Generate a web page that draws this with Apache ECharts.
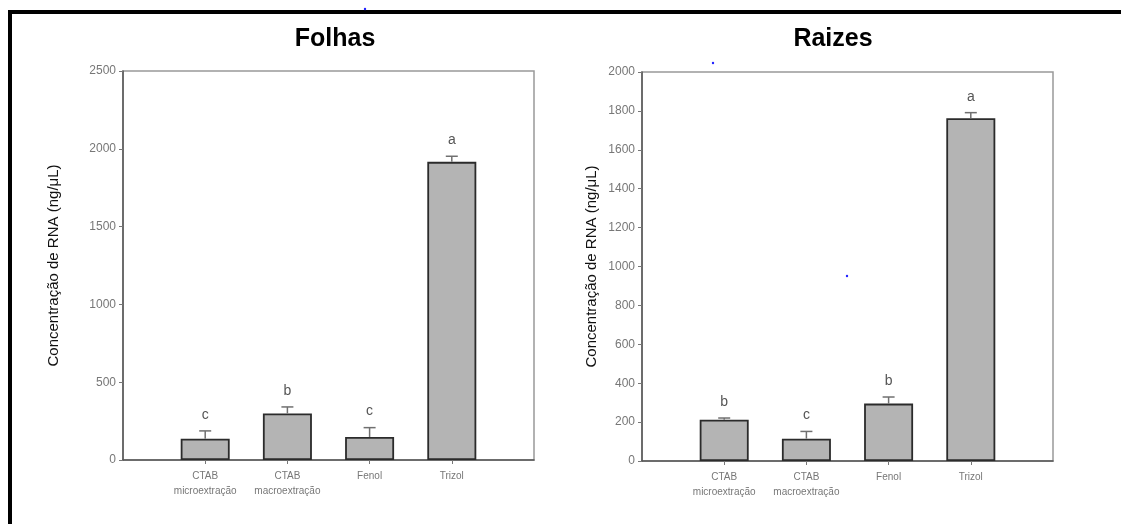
<!DOCTYPE html>
<html>
<head>
<meta charset="utf-8">
<script src="https://cdn.jsdelivr.net/npm/echarts@6/dist/echarts.min.js"></script>
<style>
html,body{margin:0;padding:0;background:#fff;}
#c{width:1121px;height:524px;}
</style>
</head>
<body>
<div id="c"></div>
<script>
// ---- data ----
const categories = ['CTAB\nmicroextração', 'CTAB\nmacroextração', 'Fenol', 'Trizol'];
const titleLeft = 'Folhas';
const titleRight = 'Raizes';
const yName = 'Concentração de RNA (ng/μL)';

const folhasMean = [137, 299, 148, 1916];
const folhasErr = [50, 42, 60, 36];
const folhasLetters = ['c', 'b', 'c', 'a'];

const raizesMean = [212, 115, 295, 1762];
const raizesErr = [9, 37, 34, 29];
const raizesLetters = ['b', 'c', 'b', 'a'];

const folhasTicks = [0, 500, 1000, 1500, 2000, 2500];
const raizesTicks = [0, 200, 400, 600, 800, 1000, 1200, 1400, 1600, 1800, 2000];

// ---- build ----
const axisCats = [''].concat(categories, ['']);
const pad = arr => [null].concat(arr, [null]);
const FONT = 'Liberation Sans, Arial, sans-serif';

function errData(mean, err, letters) {
  return mean.map((m, i) => [i + 1, m, err[i], letters[i]]);
}
function renderErr(params, api) {
  const x = api.value(0), m = api.value(1), e = api.value(2);
  const p0 = api.coord([x, m]);
  const p1 = api.coord([x, m + e]);
  const cap = 6;
  const st = {stroke: '#707070', lineWidth: 1.5};
  return {
    type: 'group',
    children: [
      {type: 'line', shape: {x1: p0[0], y1: p0[1], x2: p1[0], y2: p1[1]}, style: st},
      {type: 'line', shape: {x1: p1[0] - cap, y1: p1[1], x2: p1[0] + cap, y2: p1[1]}, style: st},
      {type: 'text', style: {text: api.value(3), x: p1[0], y: p1[1] - 9, textAlign: 'center', textVerticalAlign: 'bottom',
        font: '14px ' + FONT, fill: '#555'}}
    ]
  };
}

function xAxis(gi) {
  return {
    type: 'category', gridIndex: gi, data: axisCats, boundaryGap: false,
    axisLine: {lineStyle: {color: '#555', width: 1.5}},
    axisTick: {length: 4, interval: (i) => i > 0 && i < axisCats.length - 1, lineStyle: {color: '#777'}},
    axisLabel: {interval: 0, color: '#777', fontSize: 10, fontFamily: FONT, lineHeight: 15, margin: 9},
    splitLine: {show: false}
  };
}
function yAxis(gi, ticks, gap) {
  return {
    type: 'value', gridIndex: gi, min: ticks[0], max: ticks[ticks.length - 1], interval: ticks[1] - ticks[0],
    name: yName, nameLocation: 'middle', nameRotate: 90, nameGap: gap,
    nameTextStyle: {color: '#111', fontSize: 15, fontFamily: FONT},
    axisLine: {show: true, lineStyle: {color: '#555', width: 1.5}},
    axisTick: {show: true, length: 4, lineStyle: {color: '#777'}},
    axisLabel: {color: '#777', fontSize: 12, fontFamily: FONT, margin: 7, formatter: v => String(v)},
    splitLine: {show: false}
  };
}
function barSeries(gi, data) {
  return {
    type: 'bar', xAxisIndex: gi, yAxisIndex: gi, data: pad(data), barWidth: 49,
    itemStyle: {color: '#b4b4b4', borderColor: '#2b2b2b', borderWidth: 1.8},
    silent: true, animation: false
  };
}
function errSeries(gi, mean, err, letters) {
  return {
    type: 'custom', xAxisIndex: gi, yAxisIndex: gi, data: errData(mean, err, letters),
    renderItem: renderErr, z: 3, animation: false, silent: true
  };
}

const chart = echarts.init(document.getElementById('c'), null, {renderer: 'canvas'});
chart.setOption({
  backgroundColor: '#ffffff',
  animation: false,
  title: [
    {text: titleLeft, left: 330, top: 22, textAlign: 'center', textStyle: {fontSize: 25, fontWeight: 'bold', color: '#000', fontFamily: FONT}},
    {text: titleRight, left: 828, top: 22, textAlign: 'center', textStyle: {fontSize: 25, fontWeight: 'bold', color: '#000', fontFamily: FONT}}
  ],
  grid: [
    {left: 123, top: 71, width: 411, height: 389, show: true, borderColor: '#999', borderWidth: 1.5, backgroundColor: 'transparent'},
    {left: 642, top: 72, width: 411, height: 389, show: true, borderColor: '#999', borderWidth: 1.5, backgroundColor: 'transparent'}
  ],
  xAxis: [xAxis(0), xAxis(1)],
  yAxis: [yAxis(0, folhasTicks, 62), yAxis(1, raizesTicks, 43)],
  series: [
    barSeries(0, folhasMean),
    errSeries(0, folhasMean, folhasErr, folhasLetters),
    barSeries(1, raizesMean),
    errSeries(1, raizesMean, raizesErr, raizesLetters)
  ],
  graphic: [
    {type: 'rect', shape: {x: 8, y: 10, width: 1113, height: 4}, style: {fill: '#000'}},
    {type: 'rect', shape: {x: 8, y: 10, width: 4, height: 514}, style: {fill: '#000'}},
    {type: 'circle', shape: {cx: 365, cy: 9, r: 1.2}, style: {fill: '#2222ff'}},
    {type: 'circle', shape: {cx: 713, cy: 63, r: 1.2}, style: {fill: '#2222ff'}},
    {type: 'circle', shape: {cx: 847, cy: 276, r: 1.2}, style: {fill: '#2222ff'}}
  ]
});
</script>
</body>
</html>
